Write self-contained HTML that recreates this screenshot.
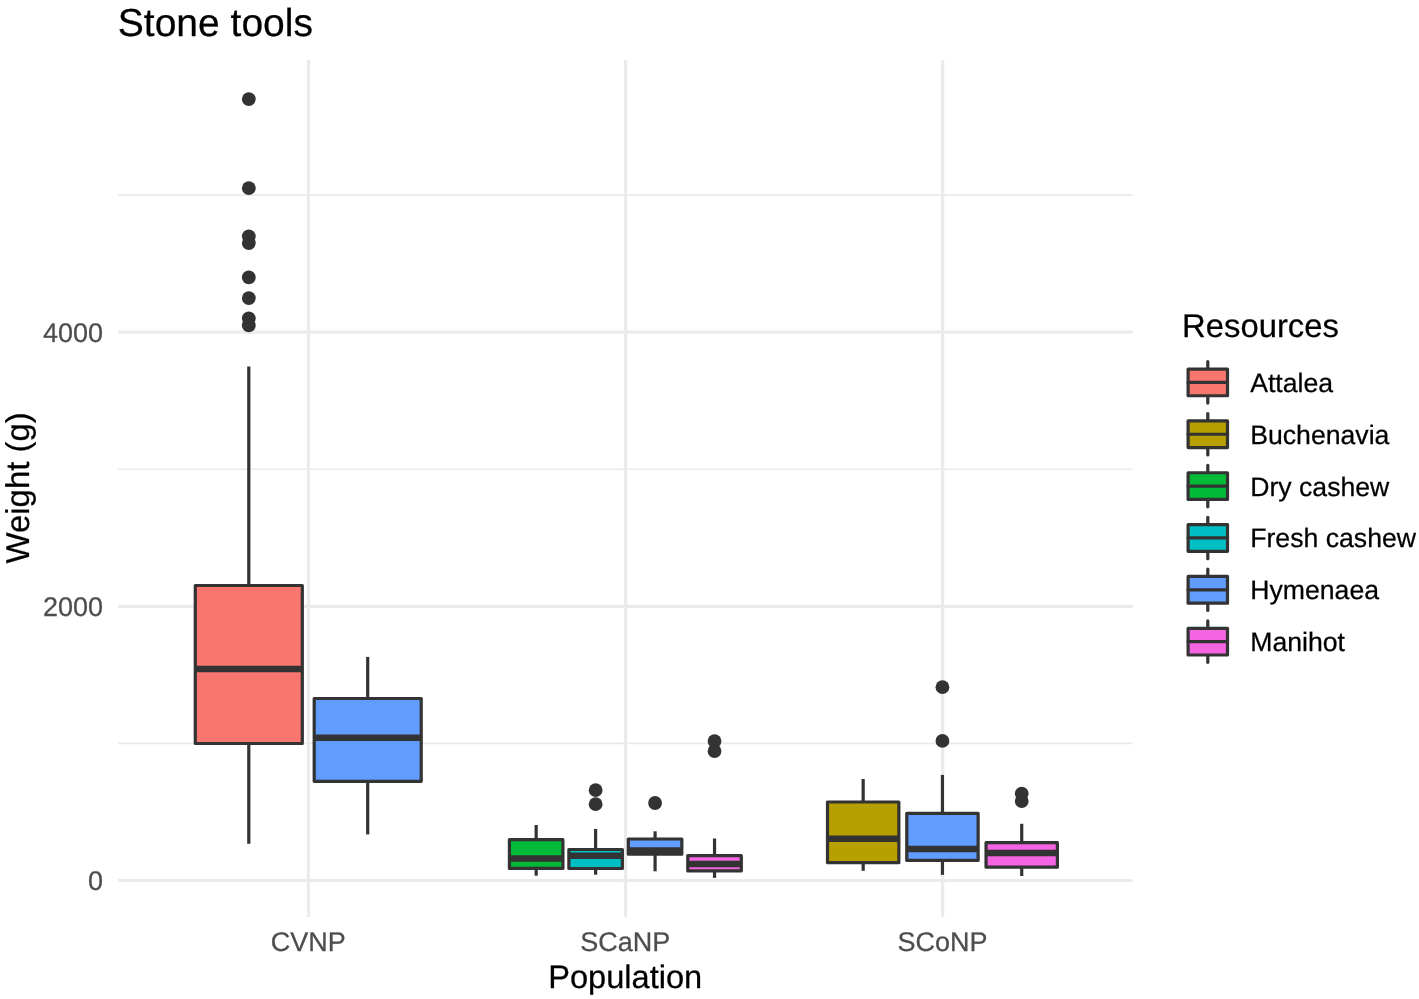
<!DOCTYPE html>
<html lang="en"><head><meta charset="utf-8"><title>Stone tools</title>
<style>html,body{margin:0;padding:0;background:#fff}svg{display:block;will-change:transform}text{font-family:"Liberation Sans", Arial, Helvetica, sans-serif;text-rendering:geometricPrecision;stroke-width:0.25px;stroke-linejoin:round}.k{stroke:#000}.g{stroke:#4D4D4D}</style></head><body>
<svg width="1419" height="999" viewBox="0 0 1419 999">
<rect width="1419" height="999" fill="#ffffff"/>
<g stroke="#EBEBEB" fill="none">
<line x1="118.00" x2="1132.70" y1="743.42" y2="743.42" stroke-width="1.6"/>
<line x1="118.00" x2="1132.70" y1="469.28" y2="469.28" stroke-width="1.6"/>
<line x1="118.00" x2="1132.70" y1="195.12" y2="195.12" stroke-width="1.6"/>
<line x1="118.00" x2="1132.70" y1="880.50" y2="880.50" stroke-width="3.2"/>
<line x1="118.00" x2="1132.70" y1="606.35" y2="606.35" stroke-width="3.2"/>
<line x1="118.00" x2="1132.70" y1="332.20" y2="332.20" stroke-width="3.2"/>
<line x1="308.46" x2="308.46" y1="60.00" y2="917.00" stroke-width="3.2"/>
<line x1="625.55" x2="625.55" y1="60.00" y2="917.00" stroke-width="3.2"/>
<line x1="942.64" x2="942.64" y1="60.00" y2="917.00" stroke-width="3.2"/>
</g>
<g stroke="#333333" stroke-width="3.20" stroke-linejoin="round">
<circle cx="248.80" cy="99.10" r="6.90" fill="#333333" stroke="none"/>
<circle cx="248.80" cy="188.20" r="6.90" fill="#333333" stroke="none"/>
<circle cx="248.80" cy="236.30" r="6.90" fill="#333333" stroke="none"/>
<circle cx="248.80" cy="243.10" r="6.90" fill="#333333" stroke="none"/>
<circle cx="248.80" cy="277.40" r="6.90" fill="#333333" stroke="none"/>
<circle cx="248.80" cy="298.10" r="6.90" fill="#333333" stroke="none"/>
<circle cx="248.80" cy="318.30" r="6.90" fill="#333333" stroke="none"/>
<circle cx="248.80" cy="325.40" r="6.90" fill="#333333" stroke="none"/>
<line x1="248.80" x2="248.80" y1="366.50" y2="585.50"/>
<line x1="248.80" x2="248.80" y1="743.50" y2="843.80"/>
<rect x="195.29" y="585.50" width="107.02" height="158.00" fill="#F8766D"/>
<line x1="195.29" x2="302.31" y1="669.00" y2="669.00" stroke-width="6.50"/>
<line x1="367.71" x2="367.71" y1="656.90" y2="698.50"/>
<line x1="367.71" x2="367.71" y1="781.30" y2="834.40"/>
<rect x="314.20" y="698.50" width="107.02" height="82.80" fill="#619CFF"/>
<line x1="314.20" x2="421.22" y1="737.70" y2="737.70" stroke-width="6.50"/>
<line x1="536.17" x2="536.17" y1="825.00" y2="839.70"/>
<line x1="536.17" x2="536.17" y1="868.40" y2="875.70"/>
<rect x="509.41" y="839.70" width="53.51" height="28.70" fill="#00BA38"/>
<line x1="509.41" x2="562.92" y1="858.60" y2="858.60" stroke-width="6.50"/>
<circle cx="595.62" cy="790.20" r="6.90" fill="#333333" stroke="none"/>
<circle cx="595.62" cy="804.20" r="6.90" fill="#333333" stroke="none"/>
<line x1="595.62" x2="595.62" y1="828.90" y2="849.50"/>
<line x1="595.62" x2="595.62" y1="868.50" y2="874.70"/>
<rect x="568.87" y="849.50" width="53.51" height="19.00" fill="#00BFC4"/>
<line x1="568.87" x2="622.38" y1="855.75" y2="855.75" stroke-width="6.50"/>
<circle cx="655.08" cy="803.00" r="6.90" fill="#333333" stroke="none"/>
<line x1="655.08" x2="655.08" y1="831.30" y2="839.00"/>
<line x1="655.08" x2="655.08" y1="854.20" y2="871.30"/>
<rect x="628.32" y="839.00" width="53.51" height="15.20" fill="#619CFF"/>
<line x1="628.32" x2="681.83" y1="850.50" y2="850.50" stroke-width="6.50"/>
<circle cx="714.53" cy="741.10" r="6.90" fill="#333333" stroke="none"/>
<circle cx="714.53" cy="751.10" r="6.90" fill="#333333" stroke="none"/>
<line x1="714.53" x2="714.53" y1="838.50" y2="855.60"/>
<line x1="714.53" x2="714.53" y1="870.90" y2="877.90"/>
<rect x="687.78" y="855.60" width="53.51" height="15.30" fill="#F564E3"/>
<line x1="687.78" x2="741.29" y1="864.10" y2="864.10" stroke-width="6.50"/>
<line x1="863.17" x2="863.17" y1="779.00" y2="802.00"/>
<line x1="863.17" x2="863.17" y1="862.70" y2="870.80"/>
<rect x="827.50" y="802.00" width="71.35" height="60.70" fill="#B79F00"/>
<line x1="827.50" x2="898.84" y1="838.80" y2="838.80" stroke-width="6.50"/>
<circle cx="942.44" cy="687.20" r="6.90" fill="#333333" stroke="none"/>
<circle cx="942.44" cy="740.90" r="6.90" fill="#333333" stroke="none"/>
<line x1="942.44" x2="942.44" y1="774.90" y2="813.30"/>
<line x1="942.44" x2="942.44" y1="860.40" y2="874.85"/>
<rect x="906.77" y="813.30" width="71.35" height="47.10" fill="#619CFF"/>
<line x1="906.77" x2="978.12" y1="849.10" y2="849.10" stroke-width="6.50"/>
<circle cx="1021.72" cy="793.60" r="6.90" fill="#333333" stroke="none"/>
<circle cx="1021.72" cy="801.10" r="6.90" fill="#333333" stroke="none"/>
<line x1="1021.72" x2="1021.72" y1="823.80" y2="842.70"/>
<line x1="1021.72" x2="1021.72" y1="867.20" y2="876.00"/>
<rect x="986.04" y="842.70" width="71.35" height="24.50" fill="#F564E3"/>
<line x1="986.04" x2="1057.39" y1="853.10" y2="853.10" stroke-width="6.50"/>
</g>
<text x="117.8" y="35.7" class="k" font-size="39.00" fill="#000">Stone tools</text>
<g class="g" font-size="27.00" fill="#4D4D4D" text-anchor="end">
<text x="103" y="889.80">0</text>
<text x="103" y="615.65">2000</text>
<text x="103" y="341.50">4000</text>
</g>
<g class="g" font-size="27.00" fill="#4D4D4D" text-anchor="middle">
<text x="308.26" y="951">CVNP</text>
<text x="625.35" y="951">SCaNP</text>
<text x="942.44" y="951">SCoNP</text>
</g>
<text x="625.2" y="987.7" class="k" font-size="32.60" fill="#000" text-anchor="middle">Population</text>
<text transform="translate(28.8 487.85) rotate(-90)" class="k" font-size="32.95" fill="#000" text-anchor="middle">Weight (g)</text>
<text x="1182.1" y="337" class="k" font-size="32.80" fill="#000">Resources</text>
<g stroke="#333333" stroke-width="3.2" stroke-linecap="round" stroke-linejoin="round">
<line x1="1207.80" x2="1207.80" y1="361.70" y2="369.05"/>
<line x1="1207.80" x2="1207.80" y1="395.75" y2="403.10"/>
<rect x="1188.10" y="369.05" width="39.40" height="26.70" fill="#F8766D"/>
<line x1="1188.10" x2="1227.50" y1="382.40" y2="382.40"/>
<line x1="1207.80" x2="1207.80" y1="413.55" y2="420.90"/>
<line x1="1207.80" x2="1207.80" y1="447.60" y2="454.95"/>
<rect x="1188.10" y="420.90" width="39.40" height="26.70" fill="#B79F00"/>
<line x1="1188.10" x2="1227.50" y1="434.25" y2="434.25"/>
<line x1="1207.80" x2="1207.80" y1="465.40" y2="472.75"/>
<line x1="1207.80" x2="1207.80" y1="499.45" y2="506.80"/>
<rect x="1188.10" y="472.75" width="39.40" height="26.70" fill="#00BA38"/>
<line x1="1188.10" x2="1227.50" y1="486.10" y2="486.10"/>
<line x1="1207.80" x2="1207.80" y1="517.25" y2="524.60"/>
<line x1="1207.80" x2="1207.80" y1="551.30" y2="558.65"/>
<rect x="1188.10" y="524.60" width="39.40" height="26.70" fill="#00BFC4"/>
<line x1="1188.10" x2="1227.50" y1="537.95" y2="537.95"/>
<line x1="1207.80" x2="1207.80" y1="569.10" y2="576.45"/>
<line x1="1207.80" x2="1207.80" y1="603.15" y2="610.50"/>
<rect x="1188.10" y="576.45" width="39.40" height="26.70" fill="#619CFF"/>
<line x1="1188.10" x2="1227.50" y1="589.80" y2="589.80"/>
<line x1="1207.80" x2="1207.80" y1="620.95" y2="628.30"/>
<line x1="1207.80" x2="1207.80" y1="655.00" y2="662.35"/>
<rect x="1188.10" y="628.30" width="39.40" height="26.70" fill="#F564E3"/>
<line x1="1188.10" x2="1227.50" y1="641.65" y2="641.65"/>
</g>
<g class="k" font-size="26.65" fill="#000">
<text x="1250.2" y="391.80">Attalea</text>
<text x="1250.2" y="443.65">Buchenavia</text>
<text x="1250.2" y="495.50">Dry cashew</text>
<text x="1250.2" y="547.35">Fresh cashew</text>
<text x="1250.2" y="599.20">Hymenaea</text>
<text x="1250.2" y="651.05">Manihot</text>
</g>
</svg></body></html>
